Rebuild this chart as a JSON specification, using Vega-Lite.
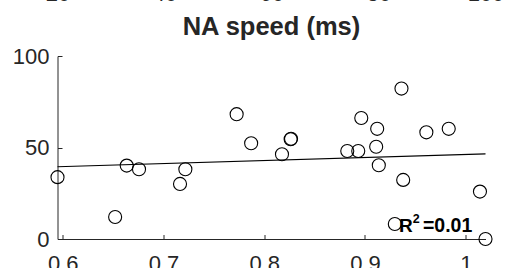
{
  "$schema": "https://vega.github.io/schema/vega-lite/v6.json",
  "autosize": "none",
  "width": 428,
  "height": 183,
  "padding": {"left": 57.5, "top": 56, "right": 19.5, "bottom": 29},
  "background": "white",
  "title": {
    "text": "NA speed (ms)",
    "font": "Liberation Sans",
    "fontSize": 25.5,
    "fontWeight": "bold",
    "color": "#262626",
    "anchor": "middle",
    "frame": "group",
    "baseline": "alphabetic",
    "offset": -78.5
  },
  "config": {
    "view": {"stroke": null},
    "axis": {
      "labelFont": "Liberation Sans",
      "labelFontSize": 22,
      "labelColor": "#262626",
      "domainColor": "#262626",
      "tickColor": "#262626",
      "grid": false,
      "title": null,
      "tickSize": -4.5,
      "domainWidth": 1,
      "tickWidth": 1
    }
  },
  "datasets": {
    "points": [
      {"ratio": 0.5948, "speed": 33.8},
      {"ratio": 0.652, "speed": 12.0},
      {"ratio": 0.6635, "speed": 40.1},
      {"ratio": 0.6757, "speed": 38.1},
      {"ratio": 0.7164, "speed": 30.1},
      {"ratio": 0.7217, "speed": 38.1},
      {"ratio": 0.7726, "speed": 68.2},
      {"ratio": 0.787, "speed": 52.3},
      {"ratio": 0.8176, "speed": 46.3},
      {"ratio": 0.8262, "speed": 54.5},
      {"ratio": 0.8266, "speed": 54.8},
      {"ratio": 0.8824, "speed": 48.1},
      {"ratio": 0.8933, "speed": 48.1},
      {"ratio": 0.8963, "speed": 66.1},
      {"ratio": 0.9121, "speed": 60.2},
      {"ratio": 0.9111, "speed": 50.4},
      {"ratio": 0.9137, "speed": 40.3},
      {"ratio": 0.9362, "speed": 82.2},
      {"ratio": 0.9379, "speed": 32.3},
      {"ratio": 0.9296, "speed": 8.2},
      {"ratio": 0.9609, "speed": 58.3},
      {"ratio": 0.9831, "speed": 60.2},
      {"ratio": 1.0141, "speed": 25.9},
      {"ratio": 1.0196, "speed": 0}
    ],
    "fit": [
      {"ratio": 0.5948, "speed": 39.5},
      {"ratio": 1.0196, "speed": 46.5}
    ]
  },
  "layer": [
    {
      "layer": [
        {
          "data": {"name": "fit"},
          "mark": {"type": "line", "color": "black", "strokeWidth": 1.1, "clip": false},
          "encoding": {
            "x": {"field": "ratio", "type": "quantitative",
                  "scale": {"domain": [0.5948, 1.0196], "nice": false, "zero": false},
                  "axis": {"values": [0.6, 0.7, 0.8, 0.9, 1], "format": "~g", "labelPadding": 18.5, "labelFlush": false}},
            "y": {"field": "speed", "type": "quantitative",
                  "scale": {"domain": [0, 100], "nice": false},
                  "axis": {"values": [0, 50, 100], "labelPadding": 13, "labelFlush": false}}
          }
        },
        {
          "data": {"name": "points"},
          "mark": {"type": "point", "shape": "circle", "filled": false, "size": 170, "stroke": "black", "strokeWidth": 1.1, "opacity": 1, "clip": false},
          "encoding": {
            "x": {"field": "ratio", "type": "quantitative"},
            "y": {"field": "speed", "type": "quantitative"}
          }
        },
        {
          "data": {"values": [{"t": "R"}]},
          "mark": {"type": "text", "font": "Liberation Sans", "fontSize": 19, "fontWeight": "bold", "color": "black", "align": "left", "baseline": "alphabetic"},
          "encoding": {
            "x": {"datum": 0.9338},
            "y": {"datum": 4.0},
            "text": {"field": "t"}
          }
        },
        {
          "data": {"values": [{"t": "2"}]},
          "mark": {"type": "text", "font": "Liberation Sans", "fontSize": 12.5, "fontWeight": "bold", "color": "black", "align": "left", "baseline": "alphabetic"},
          "encoding": {
            "x": {"datum": 0.9475},
            "y": {"datum": 8.9},
            "text": {"field": "t"}
          }
        },
        {
          "data": {"values": [{"t": "=0.01"}]},
          "mark": {"type": "text", "font": "Liberation Sans", "fontSize": 19.5, "fontWeight": "bold", "color": "black", "align": "right", "baseline": "alphabetic"},
          "encoding": {
            "x": {"datum": 1.0065},
            "y": {"datum": 4.0},
            "text": {"field": "t"}
          }
        }
      ]
    },
    {
      "data": {"values": []},
      "mark": {"type": "point", "opacity": 0},
      "encoding": {
        "x": {"field": "v", "type": "quantitative",
              "scale": {"domain": [20, 100], "nice": false, "zero": false},
              "axis": {"orient": "top", "values": [20, 40, 60, 80, 100], "ticks": false, "domain": false,
                       "labelBaseline": "alphabetic", "labelPadding": 56, "labelFlush": false}}
      }
    }
  ],
  "resolve": {"scale": {"x": "independent"}, "axis": {"x": "independent"}}
}
